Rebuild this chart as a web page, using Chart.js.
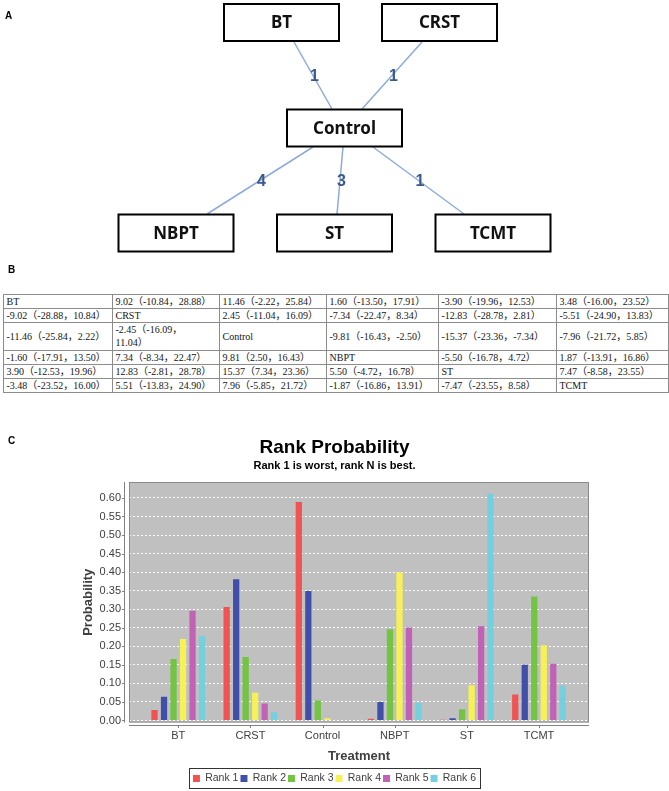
<!DOCTYPE html>
<html>
<head>
<meta charset="utf-8">
<script src="https://cdn.jsdelivr.net/npm/chart.js@4.4.1/dist/chart.umd.min.js"></script>
<style>
  html, body { margin: 0; padding: 0; background: #fff; }
  body { width: 669px; height: 791px; overflow: hidden; position: relative; font-family: "Liberation Sans", Arial, sans-serif; }
  .panel-label { position: absolute; font-weight: bold; font-size: 10px; line-height: 10px; color: #000; z-index: 5; }
  #netCanvas { position: absolute; left: 0; top: 0; }
  #rankCanvas { position: absolute; left: 0; top: 425px; }
  #league { position: absolute; left: 2.5px; top: 294px; width: 665px; border-collapse: collapse; table-layout: fixed;
            font-family: "Liberation Serif", "Noto Sans CJK SC", serif; font-size: 10px; color: #151515; }
  #league td { border: 1px solid #8c8c8c; padding: 0 3px; height: 13px; line-height: 13px; white-space: pre-line;
               vertical-align: middle; overflow: hidden; }
  #league tr.tall td { line-height: 13.4px; }
</style>
</head>
<body>
<canvas id="netCanvas" width="669" height="262"></canvas>
<div class="panel-label" style="left:5px; top:11px;">A</div>

<div class="panel-label" style="left:8px; top:265px;">B</div>
<table id="league"><colgroup></colgroup><tbody></tbody></table>

<canvas id="rankCanvas" width="669" height="369"></canvas>
<div class="panel-label" style="left:8px; top:436px;">C</div>

<script>
// ---------------- Panel A: network ----------------
const netNodes  = ['BT', 'CRST', 'Control', 'NBPT', 'ST', 'TCMT'];
const netNodeX  = [281.5, 439.5, 344.5, 176, 334.5, 493];
const netNodeY  = [22.5, 22.5, 128, 233, 233, 233];
const netEdgeLabels = ['1', '1', '4', '3', '1'];
const netEdgeFrom = [[294, 42], [422, 42], [313, 147], [343, 147], [373, 147]];
const netEdgeTo   = [[332, 109], [362, 109], [207, 214], [337, 214], [464, 214]];

// ---------------- Panel B: league table ----------------
const leagueRows = [
  ['BT', '9.02（-10.84，28.88）', '11.46（-2.22，25.84）', '1.60（-13.50，17.91）', '-3.90（-19.96，12.53）', '3.48（-16.00，23.52）'],
  ['-9.02（-28.88，10.84）', 'CRST', '2.45（-11.04，16.09）', '-7.34（-22.47，8.34）', '-12.83（-28.78，2.81）', '-5.51（-24.90，13.83）'],
  ['-11.46（-25.84，2.22）', '-2.45（-16.09，\n11.04）', 'Control', '-9.81（-16.43，-2.50）', '-15.37（-23.36，-7.34）', '-7.96（-21.72，5.85）'],
  ['-1.60（-17.91，13.50）', '7.34（-8.34，22.47）', '9.81（2.50，16.43）', 'NBPT', '-5.50（-16.78，4.72）', '1.87（-13.91，16.86）'],
  ['3.90（-12.53，19.96）', '12.83（-2.81，28.78）', '15.37（7.34，23.36）', '5.50（-4.72，16.78）', 'ST', '7.47（-8.58，23.55）'],
  ['-3.48（-23.52，16.00）', '5.51（-13.83，24.90）', '7.96（-5.85，21.72）', '-1.87（-16.86，13.91）', '-7.47（-23.55，8.58）', 'TCMT']
];

// ---------------- Panel C: rank probability ----------------
const treatments = ['BT', 'CRST', 'Control', 'NBPT', 'ST', 'TCMT'];
const rankNames  = ['Rank 1', 'Rank 2', 'Rank 3', 'Rank 4', 'Rank 5', 'Rank 6'];
const rank1 = [0.028, 0.306, 0.589, 0.005, 0.002, 0.070];
const rank2 = [0.064, 0.381, 0.349, 0.050, 0.006, 0.150];
const rank3 = [0.166, 0.171, 0.054, 0.246, 0.030, 0.334];
const rank4 = [0.220, 0.075, 0.006, 0.400, 0.095, 0.203];
const rank5 = [0.296, 0.046, 0.000, 0.251, 0.254, 0.153];
const rank6 = [0.228, 0.022, 0.000, 0.048, 0.611, 0.094];
const rankSeries = [rank1, rank2, rank3, rank4, rank5, rank6];
const rankColors = ['#ef5353', '#4050aa', '#74c444', '#f6f155', '#c262b6', '#74cfdf'];
const yTicks = [0, 0.05, 0.10, 0.15, 0.20, 0.25, 0.30, 0.35, 0.40, 0.45, 0.50, 0.55, 0.60];

Chart.defaults.font.family = '"Liberation Sans", Arial, sans-serif';

// ---- build table
(function buildTable() {
  const colW = [109, 107, 107, 112, 118, 112];
  const cg = document.querySelector('#league colgroup');
  colW.forEach(w => { const c = document.createElement('col'); c.style.width = w + 'px'; cg.appendChild(c); });
  const tb = document.querySelector('#league tbody');
  leagueRows.forEach(row => {
    const tr = document.createElement('tr');
    if (row.some(s => s.includes('\n'))) tr.className = 'tall';
    row.forEach(s => { const td = document.createElement('td'); td.textContent = s; tr.appendChild(td); });
    tb.appendChild(tr);
  });
})();

// ---- network chart
const netPlugin = {
  id: 'netBoxes',
  afterDatasetsDraw(chart) {
    const { ctx, scales: { x, y } } = chart;
    ctx.save();
    ctx.textAlign = 'center';
    ctx.textBaseline = 'middle';
    ctx.font = 'bold 16px "Liberation Sans", Arial, sans-serif';
    ctx.fillStyle = '#38598a';
    netEdgeLabels.forEach((lab, i) => {
      const mx = (netEdgeFrom[i][0] + netEdgeTo[i][0]) / 2;
      const my = (netEdgeFrom[i][1] + netEdgeTo[i][1]) / 2;
      ctx.fillText(lab, x.getPixelForValue(mx) + 1.5, y.getPixelForValue(my) + 1);
    });
    netNodes.forEach((name, i) => {
      const cx = x.getPixelForValue(netNodeX[i]);
      const cy = y.getPixelForValue(netNodeY[i]);
      const w = 115, h = 37;
      ctx.fillStyle = '#fff';
      ctx.fillRect(cx - w / 2, cy - h / 2, w, h);
      ctx.lineWidth = 2;
      ctx.strokeStyle = '#000';
      ctx.strokeRect(cx - w / 2, cy - h / 2, w, h);
      ctx.fillStyle = '#111';
      ctx.font = 'bold 17px "Noto Sans", "Liberation Sans", sans-serif';
      ctx.fillText(name, cx, cy + 1);
    });
    ctx.restore();
  }
};

new Chart(document.getElementById('netCanvas'), {
  type: 'scatter',
  data: {
    datasets: netEdgeFrom.map((f, i) => ({
      label: 'edge' + i,
      data: [{ x: f[0], y: f[1] }, { x: netEdgeTo[i][0], y: netEdgeTo[i][1] }],
      showLine: true,
      borderColor: '#8eaadc',
      borderWidth: 1.5,
      pointRadius: 0,
      pointHoverRadius: 0
    }))
  },
  options: {
    responsive: false, animation: false, devicePixelRatio: 1,
    layout: { padding: 0 },
    plugins: { legend: { display: false }, tooltip: { enabled: false }, title: { display: false } },
    scales: {
      x: { type: 'linear', min: 0, max: 669, display: false },
      y: { type: 'linear', min: 0, max: 262, reverse: true, display: false }
    }
  },
  plugins: [netPlugin]
});

// ---- rank probability chart
const plotFrame = {
  id: 'plotFrame',
  beforeDraw(chart) {
    const { ctx, chartArea: a } = chart;
    ctx.save();
    ctx.fillStyle = '#c0c0c0';
    ctx.fillRect(a.left, a.top, a.right - a.left, a.bottom - a.top);
    ctx.restore();
  },
  afterDraw(chart) {
    const { ctx, chartArea: a, scales: { x, y } } = chart;
    ctx.save();
    ctx.strokeStyle = '#8a8a8a';
    ctx.lineWidth = 1;
    ctx.strokeRect(a.left + 0.5, a.top + 0.5, a.right - a.left - 1, a.bottom - a.top - 1);
    ctx.strokeStyle = '#808080';
    ctx.beginPath();
    const ax = Math.round(a.left) - 4.5;
    ctx.moveTo(ax, a.top); ctx.lineTo(ax, a.bottom);
    y.ticks.forEach(t => {
      const py = Math.round(y.getPixelForValue(t.value)) + 0.5;
      ctx.moveTo(ax - 2.5, py); ctx.lineTo(ax, py);
    });
    const ay = Math.round(a.bottom) + 2.5;
    ctx.moveTo(a.left, ay); ctx.lineTo(a.right, ay);
    x.ticks.forEach(t => {
      const px = Math.round(x.getPixelForValue(t.value)) + 0.5;
      ctx.moveTo(px, ay); ctx.lineTo(px, ay + 2.5);
    });
    ctx.stroke();
    const hb = chart.legend && chart.legend.legendHitBoxes;
    if (hb && hb.length) {
      const l = Math.min(...hb.map(h => h.left)) - 4;
      const r = Math.max(...hb.map(h => h.left + h.width)) + 4;
      const t = hb[0].top - 5;
      ctx.strokeStyle = '#333';
      ctx.strokeRect(Math.round(l) + 0.5, Math.round(t) + 0.5, Math.round(r - l), 20);
    }
    ctx.restore();
  }
};

new Chart(document.getElementById('rankCanvas'), {
  type: 'bar',
  data: {
    datasets: rankSeries.map((vals, k) => ({
      label: rankNames[k],
      data: vals.map((v, i) => ({ x: i, y: v })),
      backgroundColor: rankColors[k],
      borderWidth: 0,
      categoryPercentage: 0.79,
      barPercentage: 0.66
    }))
  },
  options: {
    responsive: false, animation: false, devicePixelRatio: 1,
    layout: { padding: { left: 80, right: 80, top: 0, bottom: 0.25 } },
    plugins: {
      tooltip: { enabled: false },
      title: {
        display: true, text: 'Rank Probability', color: '#000',
        font: { size: 19, weight: 'bold' }, padding: { top: 11.6, bottom: 0 }
      },
      subtitle: {
        display: true, text: 'Rank 1 is worst, rank N is best.', color: '#000',
        font: { size: 11, weight: 'bold' }, padding: { top: 0, bottom: 9.4 }
      },
      legend: {
        position: 'bottom',
        labels: { boxWidth: 7, boxHeight: 7, padding: 2, color: '#404040', font: { size: 10.5 } }
      }
    },
    scales: {
      x: {
        type: 'linear', min: -0.683, max: 5.693, offset: false,
        grid: { display: false, drawTicks: false },
        border: { display: false },
        ticks: {
          padding: 7, color: '#404040', font: { size: 11 }, autoSkip: false, maxRotation: 0,
          callback: (v) => treatments[v] !== undefined ? treatments[v] : ''
        },
        afterBuildTicks: (s) => { s.ticks = treatments.map((_, i) => ({ value: i })); },
        afterFit: (s) => { s.height = 48.75; },
        title: {
          display: true, text: 'Treatment', color: '#404040',
          font: { size: 13, weight: 'bold' }, padding: { top: 0, bottom: 6.95 }
        }
      },
      y: {
        type: 'linear', min: -0.0054, max: 0.643,
        grid: { color: 'rgba(255,255,255,0.95)', lineWidth: 1, drawTicks: false },
        border: { display: false, dash: [2, 2] },
        ticks: {
          padding: 8, color: '#404040', font: { size: 11 },
          callback: (v) => Number(v).toFixed(2)
        },
        afterBuildTicks: (s) => { s.ticks = yTicks.map(v => ({ value: v })); },
        afterFit: (s) => { s.width = 49; },
        title: {
          display: true, text: 'Probability', color: '#404040',
          font: { size: 13, weight: 'bold' }, padding: { top: 0.2, bottom: 0 }
        }
      }
    }
  },
  plugins: [plotFrame]
});
</script>
</body>
</html>
